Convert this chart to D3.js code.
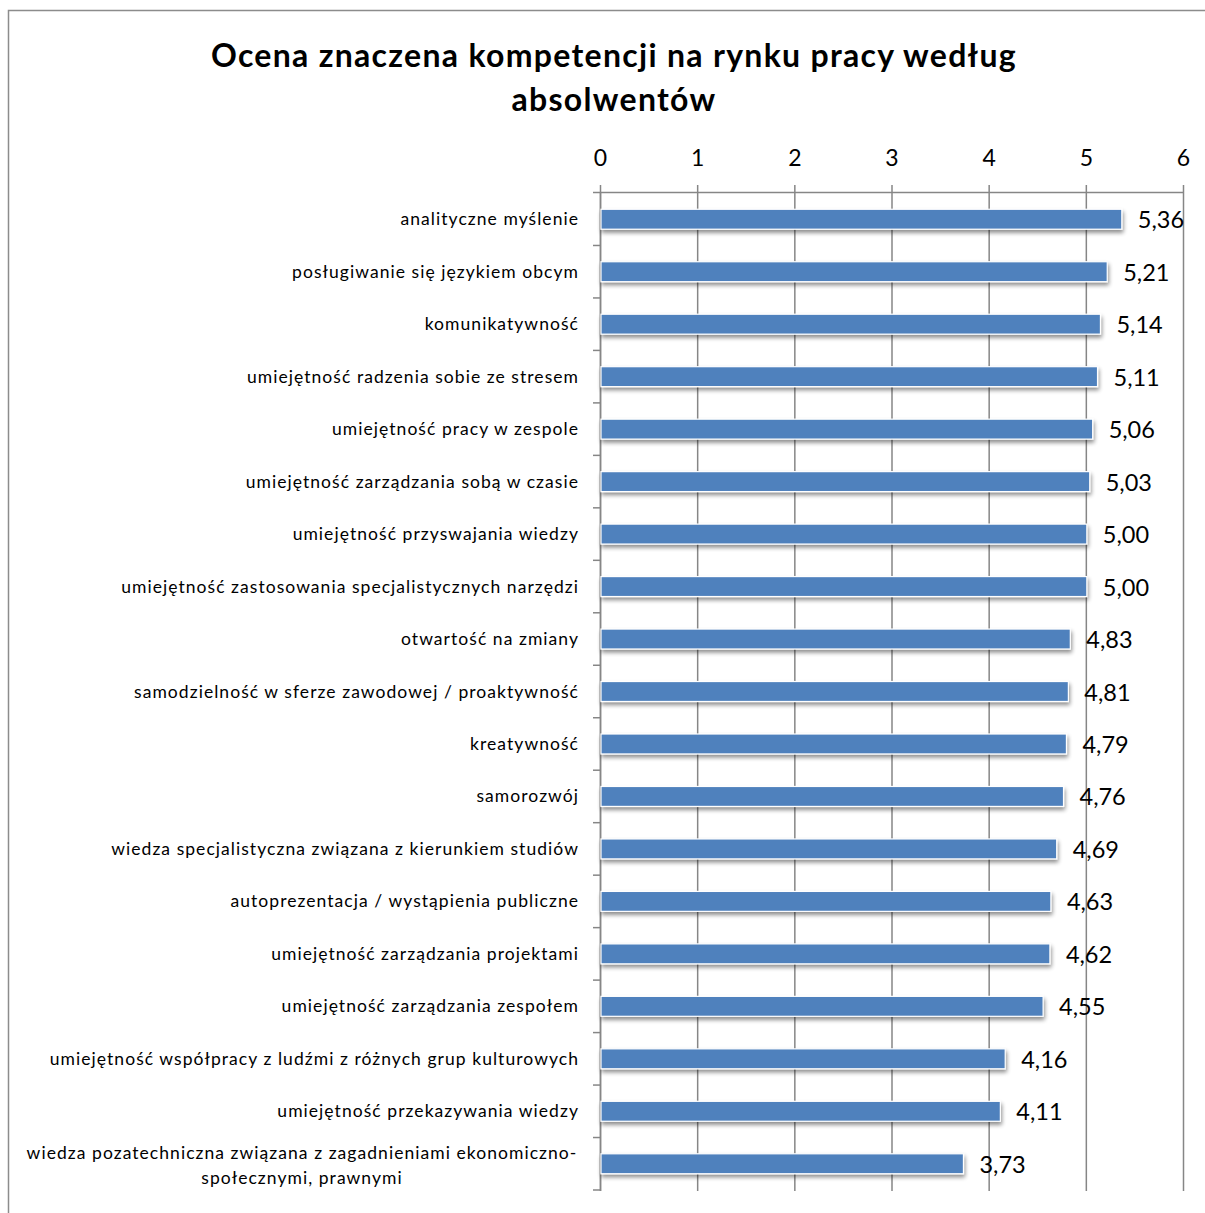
<!DOCTYPE html>
<html><head><meta charset="utf-8">
<script src="https://cdn.jsdelivr.net/npm/d3@7"></script>
<style>body{margin:0;background:#fff}svg{display:block}</style>
</head><body>
<script>
const titleLines = ["Ocena znaczena kompetencji na rynku pracy według", "absolwentów"];
const categories = [
  "analityczne myślenie",
  "posługiwanie się językiem obcym",
  "komunikatywność",
  "umiejętność radzenia sobie ze stresem",
  "umiejętność pracy w zespole",
  "umiejętność zarządzania sobą w czasie",
  "umiejętność przyswajania wiedzy",
  "umiejętność zastosowania specjalistycznych narzędzi",
  "otwartość na zmiany",
  "samodzielność w sferze zawodowej / proaktywność",
  "kreatywność",
  "samorozwój",
  "wiedza specjalistyczna związana z kierunkiem studiów",
  "autoprezentacja / wystąpienia publiczne",
  "umiejętność zarządzania projektami",
  "umiejętność zarządzania zespołem",
  "umiejętność współpracy z ludźmi z różnych grup kulturowych",
  "umiejętność przekazywania wiedzy",
  "wiedza pozatechniczna związana z zagadnieniami ekonomiczno-|społecznymi, prawnymi"
];
const values = [5.36, 5.21, 5.14, 5.11, 5.06, 5.03, 5.00, 5.00, 4.83, 4.81, 4.79, 4.76, 4.69, 4.63, 4.62, 4.55, 4.16, 4.11, 3.73];
const tickValues = [0, 1, 2, 3, 4, 5, 6];

const W = 1205, H = 1213;
const font = "Lato, 'Open Sans', sans-serif";
const svg = d3.select("body").append("svg").attr("width", W).attr("height", H);

const defs = svg.append("defs");
const f = defs.append("filter").attr("id", "sh").attr("x", "-5%").attr("y", "-50%").attr("width", "110%").attr("height", "250%");
f.append("feGaussianBlur").attr("in", "SourceAlpha").attr("stdDeviation", 2).attr("result", "b");
f.append("feOffset").attr("in", "b").attr("dx", 1).attr("dy", 3).attr("result", "o");
f.append("feComponentTransfer").attr("in", "o").attr("result", "o2")
  .append("feFuncA").attr("type", "linear").attr("slope", 0.45);
const m = f.append("feMerge");
m.append("feMergeNode").attr("in", "o2");
m.append("feMergeNode").attr("in", "SourceGraphic");

// outer border
svg.append("path").attr("d", `M8.5,${H} V10.5 H${W}`).attr("fill", "none").attr("stroke", "#8c8c8c").attr("stroke-width", 1.5);

// title
svg.append("g").selectAll("text").data(titleLines).join("text")
  .attr("x", 614).attr("y", (d, i) => 67 + i * 44)
  .attr("text-anchor", "middle").attr("font-family", font).attr("font-weight", "bold")
  .attr("font-size", 32).attr("letter-spacing", 1.3).attr("fill", "#000").text(d => d);

const x = d3.scaleLinear().domain([0, 6]).range([600, 1183]);
const y = d3.scaleBand().domain(categories).range([193, 1190]).paddingInner(0.62).paddingOuter(0.31);
const yb = d3.scaleBand().domain(categories).range([193, 1190]);

// vertical gridlines
svg.append("g").selectAll("line").data(tickValues).join("line")
  .attr("x1", d => x(d) + 0.5).attr("x2", d => x(d) + 0.5)
  .attr("y1", 185).attr("y2", 1191)
  .attr("stroke", "#868686").attr("stroke-width", 1.5);

// top axis
const xAxis = svg.append("g").attr("transform", "translate(0,192.5)")
  .call(d3.axisTop(x).tickValues(tickValues).tickSize(0).tickPadding(27).tickFormat(d3.format("d")));
xAxis.select(".domain").attr("d", "M593,0H1183").attr("stroke", "#868686").attr("stroke-width", 1.5);
xAxis.selectAll("text").attr("font-family", font).attr("font-size", 23).attr("fill", "#000");

// left axis: line and ticks at band boundaries
const g = svg.append("g");
g.append("line").attr("x1", 600.5).attr("x2", 600.5).attr("y1", 192).attr("y2", 1191)
  .attr("stroke", "#868686").attr("stroke-width", 1.5);
const bounds = categories.map(c => yb(c)).concat([yb(categories[categories.length - 1]) + yb.bandwidth()]);
g.selectAll("line.t").data(bounds.slice(1)).join("line").attr("class", "t")
  .attr("x1", 593).attr("x2", 600).attr("y1", d => d).attr("y2", d => d)
  .attr("stroke", "#868686").attr("stroke-width", 1.5);

// bars
svg.append("g").selectAll("rect").data(values).join("rect")
  .attr("x", x(0) + 1).attr("y", (d, i) => y(categories[i]))
  .attr("width", d => x(d) - x(0)).attr("height", y.bandwidth())
  .attr("fill", "#4f81bd").attr("stroke", "#fff").attr("stroke-width", 1.2)
  .attr("filter", "url(#sh)");

// value labels
svg.append("g").selectAll("text").data(values).join("text")
  .attr("x", d => x(d) + 17).attr("y", (d, i) => y(categories[i]) + y.bandwidth() / 2 + 9)
  .attr("font-family", font).attr("font-size", 23.5).attr("fill", "#000")
  .text(d => d.toFixed(2).replace(".", ","));

// category labels
const cl = svg.append("g").selectAll("text").data(categories).join("text")
  .attr("font-family", font).attr("font-size", 17.5).attr("letter-spacing", 1.05).attr("fill", "#000");
cl.each(function (d, i) {
  const parts = d.split("|");
  const cy = yb(d) + yb.bandwidth() / 2;
  const t = d3.select(this);
  if (parts.length === 1) {
    t.attr("x", 579).attr("y", cy + 6).attr("text-anchor", "end").text(d);
  } else {
    t.attr("text-anchor", "middle");
    parts.forEach((p, k) => {
      t.append("tspan").attr("x", 302).attr("y", cy - 5 + k * 25).text(p);
    });
  }
});
</script>
</body></html>
